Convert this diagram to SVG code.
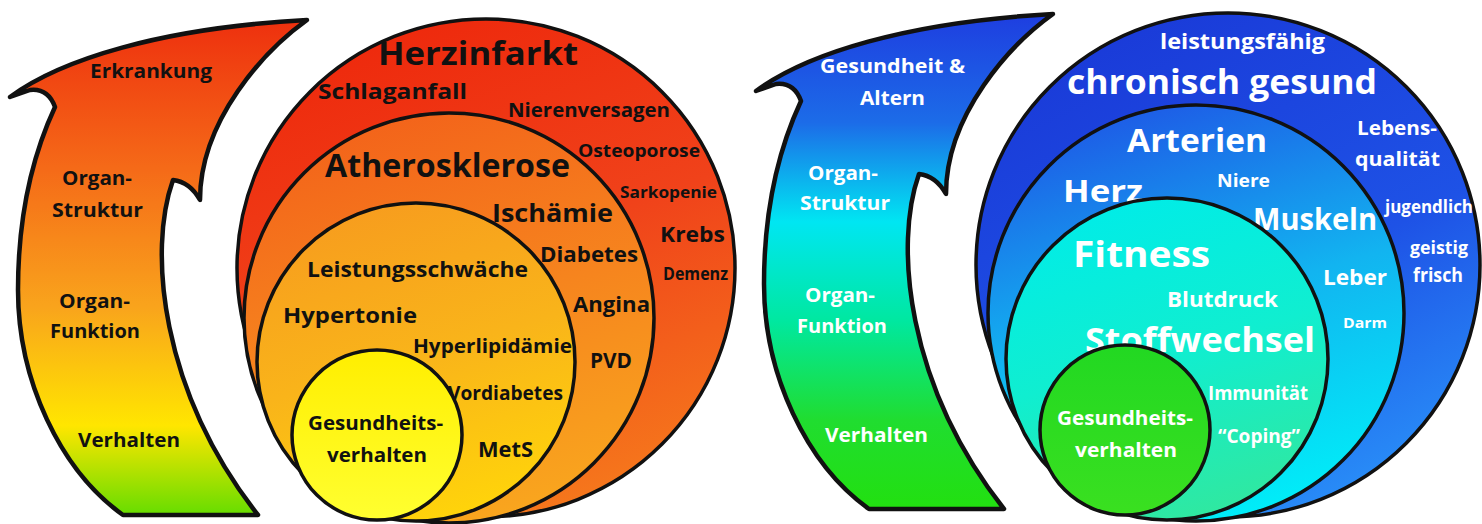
<svg xmlns="http://www.w3.org/2000/svg" width="1482" height="524" viewBox="0 0 1482 524">
<defs>
<linearGradient id="gArrowL" gradientUnits="userSpaceOnUse" x1="0" y1="20" x2="0" y2="515">
<stop offset="0" stop-color="#ee300e"/><stop offset="0.3" stop-color="#f56a18"/><stop offset="0.58" stop-color="#f9a41c"/><stop offset="0.82" stop-color="#ffe600"/><stop offset="1" stop-color="#66dd00"/>
</linearGradient>
<linearGradient id="gArrowR" gradientUnits="userSpaceOnUse" x1="0" y1="20" x2="0" y2="515">
<stop offset="0" stop-color="#1e3ee0"/><stop offset="0.22" stop-color="#1c6ce8"/><stop offset="0.42" stop-color="#00e6f2"/><stop offset="0.62" stop-color="#00e8a0"/><stop offset="0.82" stop-color="#20dd30"/><stop offset="1" stop-color="#22e010"/>
</linearGradient>
<linearGradient id="gL1" x1="0.4" y1="0" x2="0.75" y2="1"><stop offset="0" stop-color="#ee2a0d"/><stop offset="0.45" stop-color="#f0421a"/><stop offset="1" stop-color="#f67c1c"/></linearGradient>
<linearGradient id="gL2" x1="0.3" y1="0" x2="0.6" y2="1"><stop offset="0" stop-color="#f3621a"/><stop offset="0.5" stop-color="#f6841e"/><stop offset="1" stop-color="#f9a61e"/></linearGradient>
<linearGradient id="gL3" x1="0.3" y1="0" x2="0.6" y2="1"><stop offset="0" stop-color="#f79c1e"/><stop offset="0.5" stop-color="#f9b41a"/><stop offset="1" stop-color="#ffd40a"/></linearGradient>
<linearGradient id="gL4" x1="0" y1="0" x2="0" y2="1"><stop offset="0" stop-color="#ffee00"/><stop offset="1" stop-color="#ffff30"/></linearGradient>
<linearGradient id="gR1" x1="0.3" y1="0" x2="0.8" y2="1"><stop offset="0" stop-color="#1a3ad8"/><stop offset="0.55" stop-color="#1e52e6"/><stop offset="1" stop-color="#2a96fa"/></linearGradient>
<linearGradient id="gR2" x1="0.3" y1="0" x2="0.6" y2="1"><stop offset="0" stop-color="#1e58e6"/><stop offset="0.5" stop-color="#12b4f0"/><stop offset="1" stop-color="#00eef8"/></linearGradient>
<linearGradient id="gR3" x1="0.3" y1="0" x2="0.6" y2="1"><stop offset="0" stop-color="#00ece8"/><stop offset="0.5" stop-color="#10eed0"/><stop offset="1" stop-color="#30e8a0"/></linearGradient>
<linearGradient id="gR4" x1="0" y1="0" x2="0" y2="1"><stop offset="0" stop-color="#22d822"/><stop offset="1" stop-color="#3ae020"/></linearGradient>
<path id="arrowShape" d="M 10 97 C 60 60, 160 28, 307 20 C 265 50, 200 120, 200 200 Q 190 182, 173 180 C 148 250, 160 390, 258 515 L 123 515 C 60 470, 18 380, 18 290 C 18 210, 35 150, 55 107 Q 48 88, 30 90 Z"/>
</defs>
<style>
.ol{stroke:#111;stroke-width:3.5;stroke-linejoin:round}
.ar{stroke:#111;stroke-width:4.5;stroke-linejoin:round}
text{font-family:"Open Sans","DejaVu Sans",sans-serif;font-weight:700}
.k{fill:#111}
.w{fill:#fff}
</style>
<rect width="1482" height="524" fill="#fff"/>
<g id="connectors"/>
<g id="arrow-left">
<use href="#arrowShape" fill="url(#gArrowL)" class="ar"/>
<text class="k" x="90" y="78" font-size="19" textLength="122" lengthAdjust="spacingAndGlyphs">Erkrankung</text>
<text class="k" x="62" y="185" font-size="19" textLength="70" lengthAdjust="spacingAndGlyphs">Organ-</text>
<text class="k" x="52" y="217" font-size="19" textLength="91" lengthAdjust="spacingAndGlyphs">Struktur</text>
<text class="k" x="59" y="308" font-size="19" textLength="71" lengthAdjust="spacingAndGlyphs">Organ-</text>
<text class="k" x="50" y="338" font-size="19" textLength="90" lengthAdjust="spacingAndGlyphs">Funktion</text>
<text class="k" x="78" y="447" font-size="19" textLength="102" lengthAdjust="spacingAndGlyphs">Verhalten</text>
</g>
<g id="circle-left-1">
<circle cx="486" cy="268" r="249" fill="url(#gL1)" class="ol"/>
<text class="k" x="378" y="65" font-size="32" textLength="200" lengthAdjust="spacingAndGlyphs">Herzinfarkt</text>
<text class="k" x="318" y="99" font-size="21" textLength="149" lengthAdjust="spacingAndGlyphs">Schlaganfall</text>
<text class="k" x="508" y="117" font-size="20" textLength="162" lengthAdjust="spacingAndGlyphs">Nierenversagen</text>
<text class="k" x="578" y="157" font-size="18" textLength="122" lengthAdjust="spacingAndGlyphs">Osteoporose</text>
<text class="k" x="620" y="198" font-size="16" textLength="97" lengthAdjust="spacingAndGlyphs">Sarkopenie</text>
<text class="k" x="660" y="242" font-size="22" textLength="65" lengthAdjust="spacingAndGlyphs">Krebs</text>
<text class="k" x="663" y="280" font-size="17" textLength="65" lengthAdjust="spacingAndGlyphs">Demenz</text>
</g>
<g id="circle-left-2">
<circle cx="449" cy="318" r="205" fill="url(#gL2)" class="ol"/>
<text class="k" x="325" y="177" font-size="32" textLength="245" lengthAdjust="spacingAndGlyphs">Atherosklerose</text>
<text class="k" x="492" y="222" font-size="25" textLength="121" lengthAdjust="spacingAndGlyphs">Ischämie</text>
<text class="k" x="540" y="262" font-size="22" textLength="98" lengthAdjust="spacingAndGlyphs">Diabetes</text>
<text class="k" x="573" y="312" font-size="22" textLength="77" lengthAdjust="spacingAndGlyphs">Angina</text>
<text class="k" x="590" y="368" font-size="21" textLength="42" lengthAdjust="spacingAndGlyphs">PVD</text>
</g>
<g id="circle-left-3">
<circle cx="416" cy="362" r="159" fill="url(#gL3)" class="ol"/>
<text class="k" x="307" y="277" font-size="22" textLength="221" lengthAdjust="spacingAndGlyphs">Leistungsschwäche</text>
<text class="k" x="283" y="323" font-size="22" textLength="134" lengthAdjust="spacingAndGlyphs">Hypertonie</text>
<text class="k" x="413" y="353" font-size="20" textLength="159" lengthAdjust="spacingAndGlyphs">Hyperlipidämie</text>
<text class="k" x="448" y="400" font-size="19" textLength="115" lengthAdjust="spacingAndGlyphs">Vordiabetes</text>
<text class="k" x="478" y="457" font-size="22" textLength="55" lengthAdjust="spacingAndGlyphs">MetS</text>
</g>
<g id="circle-left-4">
<circle cx="377" cy="435" r="85" fill="url(#gL4)" class="ol"/>
<text class="k" x="308" y="430" font-size="20" textLength="135" lengthAdjust="spacingAndGlyphs">Gesundheits-</text>
<text class="k" x="327" y="462" font-size="20" textLength="100" lengthAdjust="spacingAndGlyphs">verhalten</text>
</g>
<g id="arrow-right">
<use href="#arrowShape" transform="translate(746,-6)" fill="url(#gArrowR)" class="ar"/>
<text class="w" x="820" y="73" font-size="20" textLength="145" lengthAdjust="spacingAndGlyphs">Gesundheit &amp;</text>
<text class="w" x="860" y="105" font-size="20" textLength="65" lengthAdjust="spacingAndGlyphs">Altern</text>
<text class="w" x="808" y="180" font-size="19" textLength="70" lengthAdjust="spacingAndGlyphs">Organ-</text>
<text class="w" x="800" y="210" font-size="19" textLength="90" lengthAdjust="spacingAndGlyphs">Struktur</text>
<text class="w" x="805" y="302" font-size="19" textLength="70" lengthAdjust="spacingAndGlyphs">Organ-</text>
<text class="w" x="797" y="333" font-size="19" textLength="90" lengthAdjust="spacingAndGlyphs">Funktion</text>
<text class="w" x="825" y="442" font-size="19" textLength="103" lengthAdjust="spacingAndGlyphs">Verhalten</text>
</g>
<g id="circle-right-1">
<circle cx="1228" cy="265" r="252" fill="url(#gR1)" class="ol"/>
<text class="w" x="1160" y="49" font-size="21" textLength="165" lengthAdjust="spacingAndGlyphs">leistungsfähig</text>
<text class="w" x="1067" y="94" font-size="34" textLength="310" lengthAdjust="spacingAndGlyphs">chronisch gesund</text>
<text class="w" x="1357" y="135" font-size="19" textLength="80" lengthAdjust="spacingAndGlyphs">Lebens-</text>
<text class="w" x="1355" y="166" font-size="20" textLength="85" lengthAdjust="spacingAndGlyphs">qualität</text>
<text class="w" x="1385" y="213" font-size="18" textLength="88" lengthAdjust="spacingAndGlyphs">jugendlich</text>
<text class="w" x="1410" y="254" font-size="18" textLength="58" lengthAdjust="spacingAndGlyphs">geistig</text>
<text class="w" x="1413" y="282" font-size="19" textLength="50" lengthAdjust="spacingAndGlyphs">frisch</text>
</g>
<g id="circle-right-2">
<circle cx="1196" cy="313" r="208" fill="url(#gR2)" class="ol"/>
<text class="w" x="1127" y="152" font-size="32" textLength="140" lengthAdjust="spacingAndGlyphs">Arterien</text>
<text class="w" x="1063" y="202" font-size="31" textLength="80" lengthAdjust="spacingAndGlyphs">Herz</text>
<text class="w" x="1217" y="187" font-size="18" textLength="53" lengthAdjust="spacingAndGlyphs">Niere</text>
<text class="w" x="1253" y="230" font-size="31" textLength="124" lengthAdjust="spacingAndGlyphs">Muskeln</text>
<text class="w" x="1323" y="285" font-size="22" textLength="64" lengthAdjust="spacingAndGlyphs">Leber</text>
<text class="w" x="1343" y="328" font-size="15" textLength="44" lengthAdjust="spacingAndGlyphs">Darm</text>
</g>
<g id="circle-right-3">
<circle cx="1167" cy="359" r="161" fill="url(#gR3)" class="ol"/>
<text class="w" x="1073" y="267" font-size="36" textLength="137" lengthAdjust="spacingAndGlyphs">Fitness</text>
<text class="w" x="1167" y="307" font-size="22" textLength="111" lengthAdjust="spacingAndGlyphs">Blutdruck</text>
<text class="w" x="1085" y="352" font-size="34" textLength="230" lengthAdjust="spacingAndGlyphs">Stoffwechsel</text>
<text class="w" x="1208" y="400" font-size="19" textLength="100" lengthAdjust="spacingAndGlyphs">Immunität</text>
<text class="w" x="1218" y="443" font-size="19" textLength="82" lengthAdjust="spacingAndGlyphs">“Coping”</text>
</g>
<g id="circle-right-4">
<circle cx="1125" cy="430" r="85" fill="url(#gR4)" class="ol"/>
<text class="w" x="1057" y="425" font-size="19" textLength="136" lengthAdjust="spacingAndGlyphs">Gesundheits-</text>
<text class="w" x="1075" y="457" font-size="20" textLength="102" lengthAdjust="spacingAndGlyphs">verhalten</text>
</g>
</svg>
